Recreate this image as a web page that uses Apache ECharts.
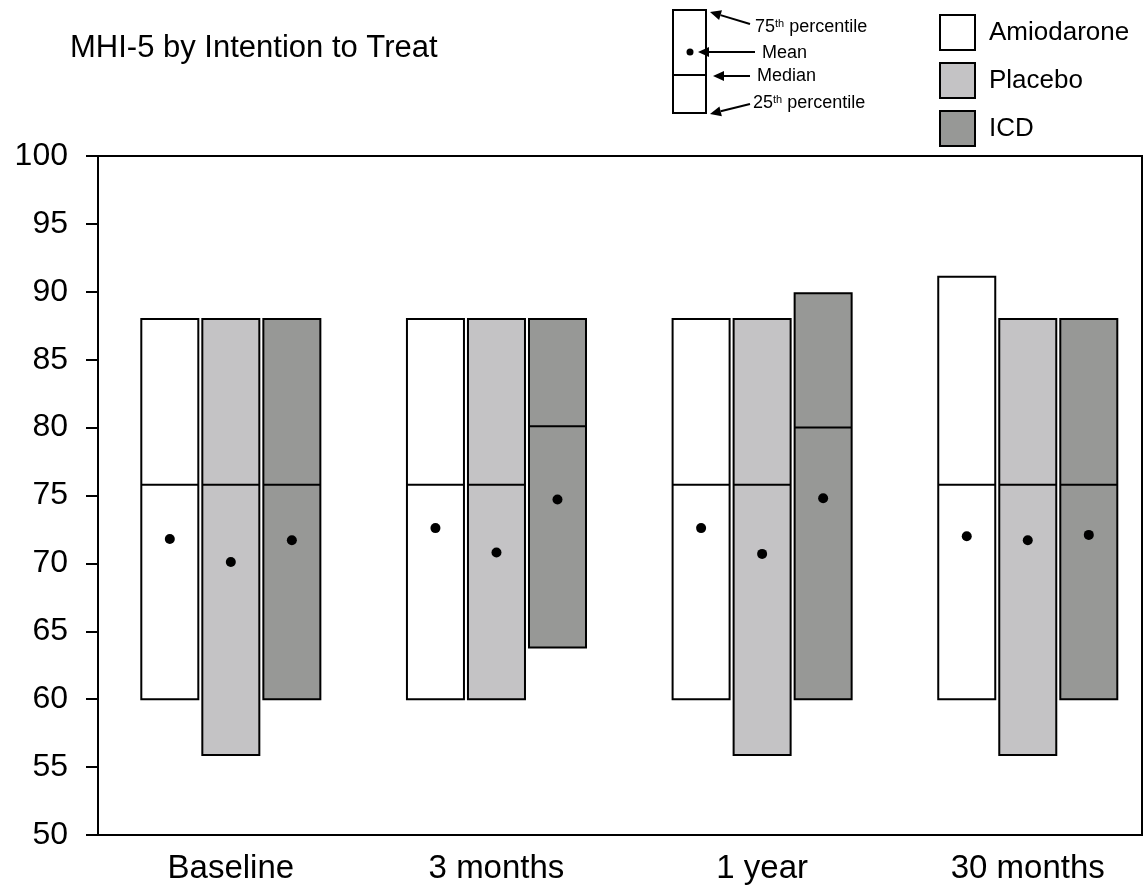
<!DOCTYPE html>
<html>
<head>
<meta charset="utf-8">
<script src="https://cdn.jsdelivr.net/npm/echarts@6/dist/echarts.min.js"></script>
<style>html,body{margin:0;padding:0;background:#fff;}#main{width:1144px;height:887px;}</style>
</head>
<body>
<div id="main"></div>
<script>
var categories = ['Baseline', '3 months', '1 year', '30 months'];
var seriesNames = ['Amiodarone', 'Placebo', 'ICD'];
var amioQ1 = [60, 60, 60, 60];
var amioMedian = [75.8, 75.8, 75.8, 75.8];
var amioQ3 = [88, 88, 88, 91.1];
var amioMean = [71.8, 72.6, 72.6, 72.0];
var placQ1 = [55.9, 60, 55.9, 55.9];
var placMedian = [75.8, 75.8, 75.8, 75.8];
var placQ3 = [88, 88, 88, 88];
var placMean = [70.1, 70.8, 70.7, 71.7];
var icdQ1 = [60, 63.8, 60, 60];
var icdMedian = [75.8, 80.1, 80.0, 75.8];
var icdQ3 = [88, 88, 89.9, 88];
var icdMean = [71.7, 74.7, 74.8, 72.1];
var yTicks = [50, 55, 60, 65, 70, 75, 80, 85, 90, 95, 100];

var FONT = '"Liberation Sans", Arial, sans-serif';
var colors = ['#ffffff', '#c4c3c5', '#979896'];

function build(q1, med, q3, mean) {
  return categories.map(function (c, i) { return [i, q1[i], med[i], q3[i], mean[i]]; });
}
var seriesData = [
  build(amioQ1, amioMedian, amioQ3, amioMean),
  build(placQ1, placMedian, placQ3, placMean),
  build(icdQ1, icdMedian, icdQ3, icdMean)
];

function makeRender(k) {
  return function (params, api) {
    var x = api.value(0);
    var lo = api.coord([x, api.value(1)]);
    var md = api.coord([x, api.value(2)]);
    var hi = api.coord([x, api.value(3)]);
    var mn = api.coord([x, api.value(4)]);
    var unit = api.size([1, 0])[0];
    var pitch = unit * 0.2297;
    var w = unit * 0.2146;
    var cx = lo[0] + (k - 1) * pitch;
    return {
      type: 'group',
      children: [
        { type: 'rect', shape: { x: cx - w / 2, y: hi[1], width: w, height: lo[1] - hi[1] },
          style: { fill: colors[k], stroke: '#000', lineWidth: 2 } },
        { type: 'line', shape: { x1: cx - w / 2, y1: md[1], x2: cx + w / 2, y2: md[1] },
          style: { stroke: '#000', lineWidth: 2 } },
        { type: 'circle', shape: { cx: cx, cy: mn[1], r: 5 }, style: { fill: '#000' } }
      ]
    };
  };
}

var series = seriesNames.map(function (n, k) {
  return {
    name: n, type: 'custom', renderItem: makeRender(k), data: seriesData[k],
    encode: { x: 0, y: [1, 3] },
    itemStyle: { color: colors[k], borderColor: '#000', borderWidth: 2 }
  };
});

function arrow(x1, y1, x2, y2) {
  var ang = Math.atan2(y2 - y1, x2 - x1);
  var L = 11, H = 5;
  var bx = x2 - L * Math.cos(ang), by = y2 - L * Math.sin(ang);
  var px = -Math.sin(ang) * H, py = Math.cos(ang) * H;
  return [
    { type: 'line', shape: { x1: x1, y1: y1, x2: bx, y2: by }, style: { stroke: '#000', lineWidth: 2 } },
    { type: 'polygon', shape: { points: [[x2, y2], [bx + px, by + py], [bx - px, by - py]] }, style: { fill: '#000' } }
  ];
}
var keyRich = { sup: { fontSize: 11, fontFamily: FONT, fill: '#000', verticalAlign: 'top', padding: [0, 0, 7, 0] } };
var keyFont = '18px ' + FONT;
var keyEls = [
  { type: 'rect', shape: { x: 673, y: 10, width: 33, height: 103 }, style: { fill: '#fff', stroke: '#000', lineWidth: 2 } },
  { type: 'line', shape: { x1: 673, y1: 75, x2: 706, y2: 75 }, style: { stroke: '#000', lineWidth: 2 } },
  { type: 'circle', shape: { cx: 690, cy: 52, r: 3.5 }, style: { fill: '#000' } },
  { type: 'text', x: 755, y: 27, style: { text: '75{sup|th} percentile', rich: keyRich, font: keyFont, fill: '#000', verticalAlign: 'middle' } },
  { type: 'text', x: 762, y: 53, style: { text: 'Mean', font: keyFont, fill: '#000', verticalAlign: 'middle' } },
  { type: 'text', x: 757, y: 76, style: { text: 'Median', font: keyFont, fill: '#000', verticalAlign: 'middle' } },
  { type: 'text', x: 753, y: 103, style: { text: '25{sup|th} percentile', rich: keyRich, font: keyFont, fill: '#000', verticalAlign: 'middle' } }
].concat(arrow(750, 24, 710, 12), arrow(755, 52, 698, 52), arrow(750, 76, 713, 76), arrow(750, 104, 710, 114));

var chart = echarts.init(document.getElementById('main'), null, { renderer: 'canvas' });
chart.setOption({
  animation: false,
  backgroundColor: '#fff',
  title: {
    text: 'MHI-5 by Intention to Treat', left: 70, top: 33, padding: 0,
    textStyle: { fontFamily: FONT, fontSize: 31, fontWeight: 'normal', color: '#000' }
  },
  legend: {
    data: seriesNames, orient: 'vertical', left: 939, top: 14, padding: 0,
    itemWidth: 35, itemHeight: 35, itemGap: 11, icon: 'rect',
    textStyle: { fontFamily: FONT, fontSize: 26, color: '#000', padding: [0, 0, 0, 9] },
    itemStyle: { borderColor: '#000', borderWidth: 2 },
    selectedMode: false
  },
  grid: {
    left: 98, right: 2, top: 156, bottom: 52, show: true,
    borderColor: '#000', borderWidth: 2, backgroundColor: 'transparent'
  },
  xAxis: {
    type: 'value', min: -0.5, max: 3.43, interval: 0.5,
    axisLine: { show: true, onZero: false, lineStyle: { color: '#000', width: 2 } },
    axisTick: { show: false }, splitLine: { show: false },
    axisLabel: {
      margin: 17, fontFamily: FONT, fontSize: 33, color: '#000',
      showMinLabel: true, showMaxLabel: false,
      formatter: function (v) { return (Math.abs(v - Math.round(v)) < 1e-6 && categories[Math.round(v)]) ? categories[Math.round(v)] : ''; }
    }
  },
  yAxis: {
    type: 'value', min: yTicks[0], max: yTicks[yTicks.length - 1], interval: yTicks[1] - yTicks[0],
    axisLine: { show: true, onZero: false, lineStyle: { color: '#000', width: 2 } },
    axisTick: { show: true, length: 12, lineStyle: { color: '#000', width: 2 } },
    splitLine: { show: false },
    axisLabel: { margin: 30, fontFamily: FONT, fontSize: 32, color: '#000' }
  },
  graphic: { elements: keyEls },
  series: series
});
</script>
</body>
</html>
